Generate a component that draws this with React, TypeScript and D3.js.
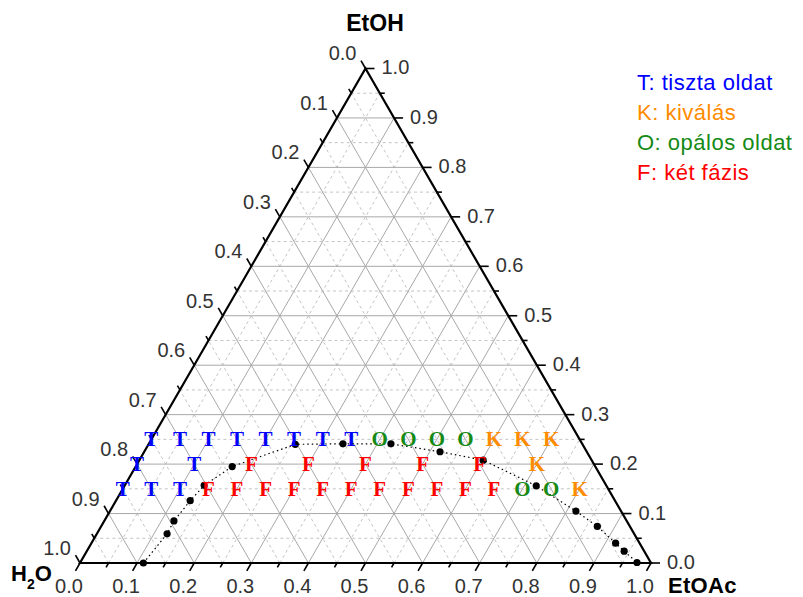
import React from "react";
import * as d3 from "d3";

// ---- data ----
const tickValues = [0, 0.1, 0.2, 0.3, 0.4, 0.5, 0.6, 0.7, 0.8, 0.9, 1.0];
const tickLabels = ["0.0", "0.1", "0.2", "0.3", "0.4", "0.5", "0.6", "0.7", "0.8", "0.9", "1.0"];
const gridValues = [0.05, 0.1, 0.15, 0.2, 0.25, 0.3, 0.35, 0.4, 0.45, 0.5, 0.55, 0.6, 0.65, 0.7, 0.75, 0.8, 0.85, 0.9, 0.95];
const minorTickValues = [0.05, 0.15, 0.25, 0.35, 0.45, 0.55, 0.65, 0.75, 0.85, 0.95];

// samples: EtOAc fraction, EtOH fraction, class
const sampleEtOAc = [
  0, 0.05, 0.1, 0.15, 0.2, 0.25, 0.3, 0.35, 0.4, 0.45, 0.5, 0.55, 0.6, 0.65, 0.7,
  0, 0.1, 0.2, 0.3, 0.4, 0.5, 0.6, 0.7,
  0, 0.05, 0.1, 0.15, 0.2, 0.25, 0.3, 0.35, 0.4, 0.45, 0.5, 0.55, 0.6, 0.65, 0.7, 0.75, 0.8,
];
const sampleEtOH = [
  0.25, 0.25, 0.25, 0.25, 0.25, 0.25, 0.25, 0.25, 0.25, 0.25, 0.25, 0.25, 0.25, 0.25, 0.25,
  0.2, 0.2, 0.2, 0.2, 0.2, 0.2, 0.2, 0.2,
  0.15, 0.15, 0.15, 0.15, 0.15, 0.15, 0.15, 0.15, 0.15, 0.15, 0.15, 0.15, 0.15, 0.15, 0.15, 0.15, 0.15,
];
const sampleClass = [
  "T", "T", "T", "T", "T", "T", "T", "T", "O", "O", "O", "O", "K", "K", "K",
  "T", "T", "F", "F", "F", "F", "F", "K",
  "T", "T", "T", "F", "F", "F", "F", "F", "F", "F", "F", "F", "F", "F", "O", "O", "K",
];

// binodal curve points
const binodalEtOAc = [0.111, 0.123, 0.122, 0.13, 0.139, 0.169, 0.257, 0.34, 0.424, 0.518, 0.602, 0.721, 0.816, 0.869, 0.918, 0.941, 0.975];
const binodalEtOH = [0.0, 0.059, 0.085, 0.126, 0.157, 0.195, 0.24, 0.241, 0.241, 0.225, 0.208, 0.156, 0.105, 0.074, 0.04, 0.024, 0.001];

const legendKeys = ["T", "K", "O", "F"];
const legendTexts = ["T: tiszta oldat", "K: kiválás", "O: opálos oldat", "F: két fázis"];
const classColors: Record<string, string> = { T: "#0000ff", K: "#ff8c00", O: "#168a16", F: "#ff0000" };

// ---- geometry ----
const X0 = 80;
const W = 571;
const YB = 563;
const H = (W * Math.sqrt(3)) / 2;
const xs = d3.scaleLinear().domain([0, 1]).range([X0, X0 + W]);
const ys = d3.scaleLinear().domain([0, 1]).range([YB, YB - H]);
const pt = (a: number, e: number): [number, number] => [xs(a + e / 2), ys(e)];

const sansFont = "'Liberation Sans', Arial, sans-serif";
const serifFont = "'Liberation Serif', 'Times New Roman', serif";

export default function App() {
  const isMajor = (v: number) => Math.abs(v * 10 - Math.round(v * 10)) < 1e-6;
  const gridLines: React.ReactNode[] = [];
  gridValues.forEach((v, i) => {
    const major = isMajor(v);
    const style = major
      ? { stroke: "#a8a8a8", strokeWidth: 1 }
      : { stroke: "#c4c4c4", strokeWidth: 1, strokeDasharray: "3,3" };
    const [x1, y1] = pt(0, v);
    const [x2, y2] = pt(1 - v, v);
    gridLines.push(<line key={"e" + i} x1={x1} y1={y1} x2={x2} y2={y2} {...style} />);
    const [x3, y3] = pt(v, 0);
    const [x4, y4] = pt(v, 1 - v);
    gridLines.push(<line key={"a" + i} x1={x3} y1={y3} x2={x4} y2={y4} {...style} />);
    const [x5, y5] = pt(1 - v, 0);
    const [x6, y6] = pt(0, 1 - v);
    gridLines.push(<line key={"h" + i} x1={x5} y1={y5} x2={x6} y2={y6} {...style} />);
  });

  const s3 = Math.sqrt(3) / 2;
  const ticks: React.ReactNode[] = [];
  const labels: React.ReactNode[] = [];
  const addTicks = (vals: number[], len: number, key: string) => {
    vals.forEach((v, i) => {
      const [bx, by] = pt(v, 0);
      ticks.push(<line key={key + "b" + i} x1={bx} y1={by} x2={bx - 0.5 * len} y2={by + s3 * len} stroke="#000" strokeWidth={1.6} />);
      const [rx, ry] = pt(1 - v, v);
      ticks.push(<line key={key + "r" + i} x1={rx} y1={ry} x2={rx + len} y2={ry} stroke="#000" strokeWidth={1.6} />);
      const [lx, ly] = pt(0, 1 - v);
      ticks.push(<line key={key + "l" + i} x1={lx} y1={ly} x2={lx - 0.5 * len} y2={ly - s3 * len} stroke="#000" strokeWidth={1.6} />);
    });
  };
  addTicks(tickValues, 9, "M");
  addTicks(minorTickValues, 5, "m");

  tickValues.forEach((v, i) => {
    const [bx, by] = pt(v, 0);
    labels.push(
      <text key={"bl" + i} x={bx - 11} y={by + 30} textAnchor="middle" fontSize={20} fill="#333">{tickLabels[i]}</text>
    );
    const [rx, ry] = pt(1 - v, v);
    labels.push(
      <text key={"rl" + i} x={rx + 16} y={ry + 6} textAnchor="start" fontSize={20} fill="#333">{tickLabels[i]}</text>
    );
    const [lx, ly] = pt(0, 1 - v);
    labels.push(
      <text key={"ll" + i} x={lx - 9} y={ly - 8} textAnchor="end" fontSize={20} fill="#333">{tickLabels[i]}</text>
    );
  });

  const [A0x, A0y] = pt(0, 0);
  const [A1x, A1y] = pt(1, 0);
  const [A2x, A2y] = pt(0, 1);

  const binodalPts = binodalEtOAc.map((a, i) => pt(a, binodalEtOH[i]));
  const linePath = d3.line()(binodalPts) || "";

  return (
    <svg width={803} height={597} style={{ position: "absolute", left: 0, top: 0, background: "#fff" }} fontFamily={sansFont}>
      <rect width={803} height={597} fill="#fff" />
      <g>{gridLines}</g>
      <path d={`M${A0x},${A0y}L${A1x},${A1y}L${A2x},${A2y}Z`} fill="none" stroke="#000" strokeWidth={2.2} strokeLinejoin="miter" />
      <g>{ticks}</g>
      <g>{labels}</g>
      <path d={linePath} fill="none" stroke="#000" strokeWidth={1.2} strokeDasharray="1.5,3" />
      {binodalPts.map(([x, y], i) => (
        <circle key={"d" + i} cx={x} cy={y} r={3.6} fill="#000" />
      ))}
      {sampleClass.map((c, i) => {
        const [x, y] = pt(sampleEtOAc[i], sampleEtOH[i]);
        return (
          <text key={"s" + i} x={x} y={y + 7} textAnchor="middle" fontFamily={serifFont} fontWeight="bold" fontSize={21} fill={classColors[c]}>
            {c}
          </text>
        );
      })}
      <text x={375} y={31} textAnchor="middle" fontWeight="bold" fontSize={23} fill="#000">EtOH</text>
      <text x={668} y={593} textAnchor="start" fontWeight="bold" fontSize={22} letterSpacing={0.3} fill="#000">EtOAc</text>
      <text x={11} y={581} fontWeight="bold" fontSize={22} fill="#000">
        H<tspan fontSize={14} dy={8}>2</tspan><tspan dy={-8}>O</tspan>
      </text>
      {legendKeys.map((k, i) => (
        <text key={"lg" + i} x={637} y={90 + i * 30} fontSize={22} letterSpacing={0.5} fill={classColors[k]}>
          {legendTexts[i]}
        </text>
      ))}
    </svg>
  );
}
